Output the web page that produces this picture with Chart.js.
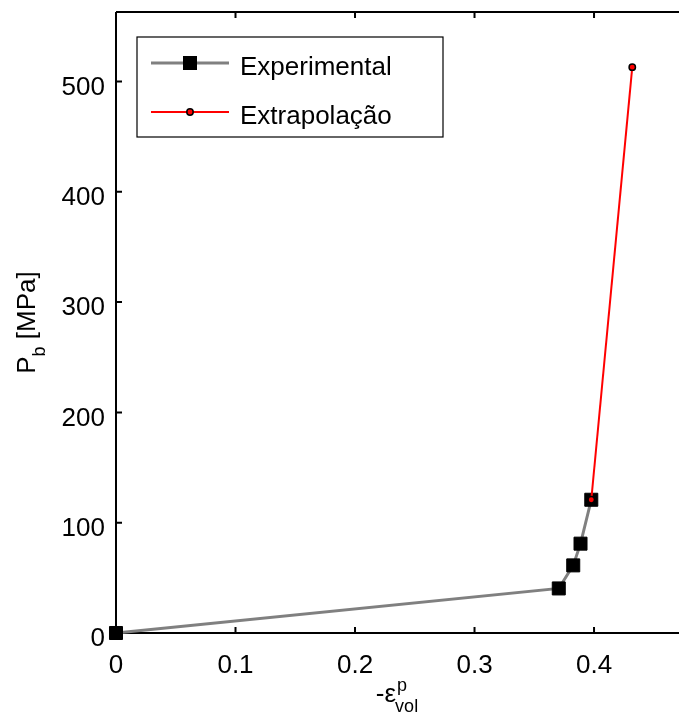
<!DOCTYPE html>
<html>
<head>
<meta charset="utf-8">
<script src="https://cdn.jsdelivr.net/npm/chart.js@4/dist/chart.umd.min.js"></script>
<style>
  html, body { margin: 0; padding: 0; background: #fff; overflow: hidden; }
  canvas { display: block; }
</style>
</head>
<body>
<canvas id="c" width="679" height="713"></canvas>
<script>
// ---- data ----
const seriesNames = ['Experimental', 'Extrapolação'];
const expX = [0, 0.3705, 0.3826, 0.3887, 0.3977];
const expY = [0, 40.4, 61.3, 81.0, 120.8];
const extX = [0.3977, 0.432];
const extY = [120.8, 513];
const xTicks = [0, 0.1, 0.2, 0.3, 0.4];
const yTicks = [0, 100, 200, 300, 400, 500];
const xRange = [0, 0.4711];
const yRange = [0, 563];

const FONT = "'Liberation Sans', Arial, Helvetica, sans-serif";
const GRAY = '#808080';
const RED = '#ff0000';

const toPts = (xs, ys) => xs.map((x, i) => ({ x: x, y: ys[i] }));

const framePlugin = {
  id: 'frame',
  beforeDatasetsDraw(chart) {
    const { ctx, chartArea: a, scales } = chart;
    ctx.save();
    ctx.strokeStyle = '#000';
    ctx.lineWidth = 2;
    ctx.beginPath();
    ctx.moveTo(a.left, a.top); ctx.lineTo(a.right + 5, a.top);
    ctx.moveTo(a.left, a.top); ctx.lineTo(a.left, a.bottom);
    ctx.moveTo(a.left, a.bottom); ctx.lineTo(a.right + 5, a.bottom);
    const tl = 6;
    xTicks.forEach(v => {
      const px = scales.x.getPixelForValue(v);
      ctx.moveTo(px, a.bottom); ctx.lineTo(px, a.bottom - tl);
      ctx.moveTo(px, a.top); ctx.lineTo(px, a.top + tl);
    });
    yTicks.forEach(v => {
      const py = scales.y.getPixelForValue(v);
      ctx.moveTo(a.left, py); ctx.lineTo(a.left + tl, py);
    });
    ctx.stroke();
    ctx.restore();
  },
  afterDraw(chart) {
    const { ctx, chartArea: a } = chart;
    ctx.save();
    ctx.fillStyle = '#000';
    ctx.textBaseline = 'alphabetic';
    ctx.textAlign = 'left';
    // ---- x axis title: -ε^p_vol ----
    const big = '26px ' + FONT, small = '18px ' + FONT;
    ctx.font = big;
    const mainTxt = '-ε';
    const wMain = ctx.measureText(mainTxt).width;
    ctx.font = small;
    const wSup = ctx.measureText('p').width;
    const wSub = ctx.measureText('vol').width;
    const wTot = wMain + Math.max(wSup, wSub);
    const cx = (a.left + a.right) / 2;
    const x0 = cx - wTot / 2;
    const base = 702;
    ctx.font = big; ctx.fillText(mainTxt, x0, base);
    ctx.font = small;
    ctx.fillText('p', x0 + wMain + 1, base - 11);
    ctx.fillText('vol', x0 + wMain - 1, base + 10);

    // ---- y axis title: P_b [MPa] ----
    ctx.font = big;
    const wP = ctx.measureText('P').width;
    const wRest = ctx.measureText(' [MPa]').width;
    ctx.font = small;
    const wb = ctx.measureText('b').width;
    const wY = wP + wb + wRest;
    const cy = (a.top + a.bottom) / 2;
    ctx.translate(35, cy);
    ctx.rotate(-Math.PI / 2);
    let sx = -wY / 2;
    ctx.font = big; ctx.fillText('P', sx, 0); sx += wP;
    ctx.font = small; ctx.fillText('b', sx, 10); sx += wb;
    ctx.font = big; ctx.fillText(' [MPa]', sx, 0);
    ctx.restore();

    // ---- legend ----
    ctx.save();
    const lx = a.left + 21, ly = a.top + 25, lw = 306, lh = 100;
    ctx.fillStyle = '#fff';
    ctx.fillRect(lx, ly, lw, lh);
    ctx.strokeStyle = '#000';
    ctx.lineWidth = 1.2;
    ctx.strokeRect(lx, ly, lw, lh);
    const rows = [ly + 26, ly + 75];
    chart.data.datasets.forEach((ds, i) => {
      const yy = rows[i];
      ctx.strokeStyle = ds.borderColor;
      ctx.lineWidth = ds.borderWidth;
      ctx.beginPath();
      ctx.moveTo(lx + 14, yy); ctx.lineTo(lx + 92, yy);
      ctx.stroke();
      const mx = lx + 53;
      if (ds.pointStyle === 'rect') {
        const s = 14;
        ctx.fillStyle = '#000';
        ctx.fillRect(mx - s / 2, yy - s / 2, s, s);
      } else {
        ctx.beginPath();
        ctx.arc(mx, yy, ds.pointRadius, 0, Math.PI * 2);
        ctx.fillStyle = ds.pointBackgroundColor;
        ctx.fill();
        ctx.lineWidth = ds.pointBorderWidth;
        ctx.strokeStyle = ds.pointBorderColor;
        ctx.stroke();
      }
      ctx.fillStyle = '#000';
      ctx.font = '26px ' + FONT;
      ctx.textBaseline = 'alphabetic';
      ctx.fillText(seriesNames[i], lx + 103, yy + 11.5);
    });
    ctx.restore();
  }
};

new Chart(document.getElementById('c'), {
  type: 'scatter',
  data: {
    datasets: [
      {
        label: seriesNames[0],
        data: toPts(expX, expY),
        showLine: true,
        clip: false,
        borderColor: GRAY,
        borderWidth: 3,
        pointStyle: 'rect',
        pointRadius: 9.2,
        pointBackgroundColor: '#000',
        pointBorderColor: '#000',
        pointBorderWidth: 1,
        order: 2
      },
      {
        label: seriesNames[1],
        data: toPts(extX, extY),
        showLine: true,
        clip: false,
        borderColor: RED,
        borderWidth: 2,
        pointStyle: 'circle',
        pointRadius: 3.2,
        pointBackgroundColor: RED,
        pointBorderColor: '#000',
        pointBorderWidth: 1.5,
        order: 1
      }
    ]
  },
  options: {
    responsive: false,
    animation: false,
    devicePixelRatio: 1,
    layout: { autoPadding: false, padding: { top: 12, right: 0, bottom: 0, left: 0 } },
    plugins: { legend: { display: false }, tooltip: { enabled: false } },
    scales: {
      x: {
        type: 'linear',
        min: xRange[0], max: xRange[1],
        grid: { display: false, drawTicks: false },
        border: { display: false },
        ticks: {
          color: '#000', font: { size: 26, family: FONT },
          padding: 17, maxRotation: 0, autoSkip: false, includeBounds: false,
          callback: v => String(v)
        },
        afterBuildTicks: s => { s.ticks = xTicks.map(v => ({ value: v })); },
        afterFit: s => { s.height = 80; s.paddingLeft = 0; s.paddingRight = 0; }
      },
      y: {
        type: 'linear',
        min: yRange[0], max: yRange[1],
        grid: { display: false, drawTicks: false },
        border: { display: false },
        ticks: {
          color: '#000', font: { size: 26, family: FONT },
          padding: 11, labelOffset: 6, autoSkip: false, includeBounds: false,
          callback: v => String(v)
        },
        afterBuildTicks: s => { s.ticks = yTicks.map(v => ({ value: v })); },
        afterFit: s => { s.width = 116; s.paddingTop = 0; s.paddingBottom = 0; }
      }
    }
  },
  plugins: [framePlugin]
});
</script>
</body>
</html>
